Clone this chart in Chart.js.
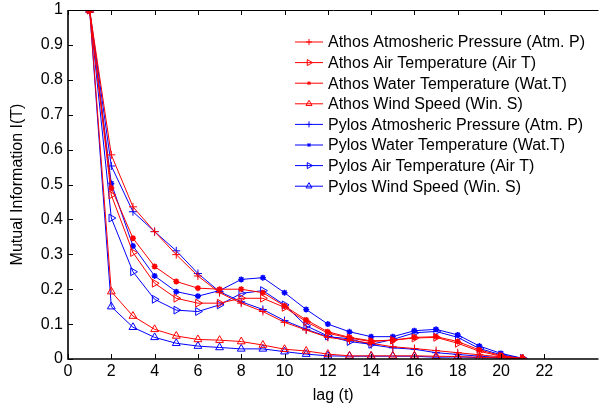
<!DOCTYPE html>
<html>
<head>
<meta charset="utf-8">
<script src="https://cdn.jsdelivr.net/npm/chart.js@4.4.1/dist/chart.umd.min.js"></script>
<style>
	html, body { margin: 0; padding: 0; background: #fff; }
	#wrap { width: 604px; height: 412px; }
</style>
</head>
<body>
<div id="wrap"><canvas id="miChart" width="604" height="412"></canvas></div>
<script>
// lag values
const lags = [1, 2, 3, 4, 5, 6, 7, 8, 9, 10, 11, 12, 13, 14, 15, 16, 17, 18, 19, 20, 21];
const xTicks = [0, 2, 4, 6, 8, 10, 12, 14, 16, 18, 20, 22];

// mutual information per series
const athosAtmP = [1, 0.585, 0.436, 0.365, 0.299, 0.238, 0.19, 0.16, 0.136, 0.105, 0.083, 0.062, 0.054, 0.045, 0.035, 0.03, 0.024, 0.018, 0.012, 0.006, 0.001];
const athosAirT = [1, 0.47, 0.305, 0.217, 0.174, 0.16, 0.16, 0.174, 0.174, 0.148, 0.107, 0.074, 0.06, 0.05, 0.054, 0.06, 0.062, 0.045, 0.022, 0.008, 0.001];
const athosWatT = [1, 0.49, 0.346, 0.265, 0.222, 0.203, 0.2, 0.2, 0.19, 0.152, 0.112, 0.078, 0.062, 0.052, 0.054, 0.062, 0.064, 0.05, 0.026, 0.01, 0.001];
const athosWinS = [1, 0.193, 0.123, 0.085, 0.066, 0.056, 0.054, 0.05, 0.04, 0.028, 0.023, 0.014, 0.009, 0.009, 0.009, 0.009, 0.008, 0.007, 0.005, 0.003, 0.001];
const pylosAtmP = [1, 0.553, 0.422, 0.365, 0.31, 0.245, 0.193, 0.164, 0.142, 0.11, 0.085, 0.064, 0.058, 0.041, 0.032, 0.028, 0.018, 0.013, 0.008, 0.004, 0.001];
const pylosWatT = [1, 0.503, 0.324, 0.238, 0.193, 0.18, 0.196, 0.228, 0.233, 0.19, 0.142, 0.1, 0.078, 0.064, 0.064, 0.081, 0.085, 0.069, 0.037, 0.016, 0.002];
const pylosAirT = [1, 0.404, 0.25, 0.171, 0.14, 0.136, 0.155, 0.188, 0.196, 0.155, 0.095, 0.066, 0.05, 0.042, 0.056, 0.075, 0.079, 0.062, 0.03, 0.012, 0.002];
const pylosWinS = [1, 0.15, 0.091, 0.062, 0.045, 0.037, 0.033, 0.029, 0.029, 0.021, 0.014, 0.009, 0.008, 0.008, 0.008, 0.008, 0.005, 0.006, 0.004, 0.003, 0.001];

const RED = '#ff0000';
const BLUE = '#0000ff';
const FONT = "'Liberation Sans', Arial, Helvetica, sans-serif";

const series = [
	{ label: 'Athos Atmosheric Pressure (Atm. P)', values: athosAtmP, color: RED, style: 'cross', rot: 0, r: 4 },
	{ label: 'Athos Air Temperature (Air T)', values: athosAirT, color: RED, style: 'triangle', rot: 90, r: 4.5 },
	{ label: 'Athos Water Temperature (Wat.T)', values: athosWatT, color: RED, style: 'star', rot: 0, r: 3 },
	{ label: 'Athos Wind Speed (Win. S)', values: athosWinS, color: RED, style: 'triangle', rot: 0, r: 4.5 },
	{ label: 'Pylos Atmosheric Pressure (Atm. P)', values: pylosAtmP, color: BLUE, style: 'cross', rot: 0, r: 4 },
	{ label: 'Pylos Water Temperature (Wat.T)', values: pylosWatT, color: BLUE, style: 'star', rot: 0, r: 3 },
	{ label: 'Pylos Air Temperature (Air T)', values: pylosAirT, color: BLUE, style: 'triangle', rot: 90, r: 4.5 },
	{ label: 'Pylos Wind Speed (Win. S)', values: pylosWinS, color: BLUE, style: 'triangle', rot: 0, r: 4.5 },
];

// axes box (top line) and inward ticks, matlab style
const frame = {
	id: 'frame',
	afterDatasetsDraw(chart) {
		const { ctx, chartArea: a, scales: { x, y } } = chart;
		ctx.save();
		ctx.strokeStyle = '#000';
		ctx.lineWidth = 1;
		ctx.beginPath();
		ctx.moveTo(a.left, a.top + 0.5);
		ctx.lineTo(a.right, a.top + 0.5);
		x.ticks.forEach((t) => {
			const px = Math.round(x.getPixelForValue(t.value)) + 0.5;
			ctx.moveTo(px, a.bottom);
			ctx.lineTo(px, a.bottom - 5);
			ctx.moveTo(px, a.top);
			ctx.lineTo(px, a.top + 5);
		});
		y.ticks.forEach((t) => {
			const py = Math.round(y.getPixelForValue(t.value)) + 0.5;
			ctx.moveTo(a.left, py);
			ctx.lineTo(a.left + 5, py);
		});
		ctx.stroke();
		ctx.lineWidth = 1.6;
		ctx.beginPath();
		ctx.moveTo(a.left, a.top);
		ctx.lineTo(a.left, a.bottom);
		ctx.lineTo(a.right, a.bottom);
		ctx.stroke();
		ctx.restore();
	},
};

// legend inside plot, no box
const innerLegend = {
	id: 'innerLegend',
	afterDraw(chart) {
		const ctx = chart.ctx;
		ctx.save();
		ctx.font = '16px ' + FONT;
		ctx.textBaseline = 'middle';
		ctx.fillStyle = '#000';
		series.forEach((s, i) => {
			const yy = 42 + i * 20.6;
			ctx.strokeStyle = s.color;
			ctx.lineWidth = 1;
			ctx.beginPath();
			ctx.moveTo(295, yy);
			ctx.lineTo(323, yy);
			ctx.stroke();
			ctx.fillStyle = 'rgba(0,0,0,0)';
			Chart.helpers.drawPoint(ctx, { pointStyle: s.style, rotation: s.rot, radius: s.r - 1, borderWidth: 1 }, 309, yy);
			ctx.fillStyle = '#000';
			ctx.fillText(s.label, 328, yy + 1);
		});
		ctx.restore();
	},
};

new Chart(document.getElementById('miChart'), {
	type: 'line',
	data: {
		datasets: series.map((s) => ({
			label: s.label,
			data: lags.map((l, i) => ({ x: l, y: s.values[i] })),
			borderColor: s.color,
			borderWidth: 1,
			pointStyle: s.style,
			pointRotation: s.rot,
			pointRadius: s.r,
			pointBorderColor: s.color,
			pointBackgroundColor: 'rgba(0,0,0,0)',
			pointBorderWidth: s.style === 'star' ? 1.5 : 1,
			tension: 0,
		})),
	},
	plugins: [frame, innerLegend],
	options: {
		responsive: false,
		animation: false,
		layout: { padding: { top: 10, right: 4, left: 0, bottom: 0 } },
		plugins: {
			legend: { display: false },
			tooltip: { enabled: false },
		},
		scales: {
			x: {
				type: 'linear',
				min: 0,
				max: 24.5,
				afterBuildTicks: (scale) => {
					scale.ticks = xTicks.map((v) => ({ value: v }));
				},
				afterFit: (scale) => {
					scale.height = 53;
					scale.paddingLeft = 0;
					scale.paddingRight = 0;
				},
				grid: { display: false, drawTicks: false },
				border: { display: false },
				ticks: { color: '#000', padding: 3, font: { family: FONT, size: 16 }, maxRotation: 0 },
				title: { display: true, text: 'lag (t)', color: '#000', font: { family: FONT, size: 16 }, padding: { top: 0, bottom: 7 } },
			},
			y: {
				min: 0,
				max: 1,
				ticks: {
					stepSize: 0.1,
					color: '#000',
					padding: 5,
					font: { family: FONT, size: 16 },
					callback: (v) => String(Number(v.toFixed(1))),
				},
				afterFit: (scale) => {
					scale.width = 68;
					scale.paddingTop = 0;
					scale.paddingBottom = 0;
				},
				grid: { display: false, drawTicks: false },
				border: { display: false },
				title: { display: true, text: 'Mutual Information I(T)', color: '#000', font: { family: FONT, size: 16 }, padding: { top: 8, bottom: 0 } },
			},
		},
	},
});
</script>
</body>
</html>
